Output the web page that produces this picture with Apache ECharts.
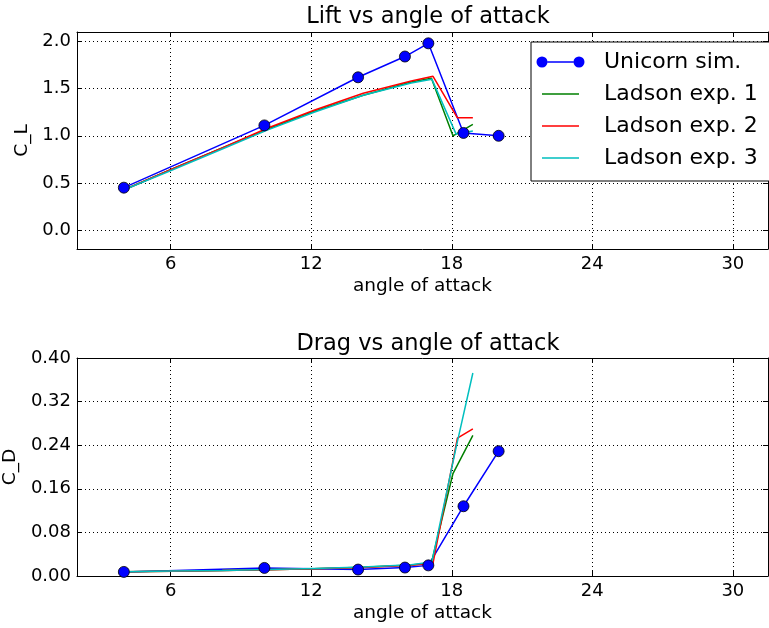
<!DOCTYPE html>
<html>
<head>
<meta charset="utf-8">
<script src="https://cdn.jsdelivr.net/npm/echarts@6/dist/echarts.min.js"></script>
<style>
  html, body { margin: 0; padding: 0; background: #fff; }
  #chart { width: 769px; height: 628px; }
</style>
</head>
<body>
<div id="chart"></div>
<script>
// Simulation results (Unicorn)
const aoaSim = [4, 10, 14, 16, 17, 18.5, 20];
const clSim  = [0.45, 1.11, 1.62, 1.84, 1.98, 1.03, 1.00];
const cdSim  = [0.0075, 0.0148, 0.0118, 0.0155, 0.0195, 0.128, 0.229];

// Wind tunnel measurements (Ladson), three runs
const aoaExp1 = [4.04, 6.09, 8.2, 10.12, 12.12, 14.22, 16.27, 17.13, 18.05, 18.9];
const clExp1  = [0.43, 0.65, 0.87, 1.07, 1.26, 1.43, 1.57, 1.61, 1.00, 1.12];
const cdExp1  = [0.0078, 0.0088, 0.0100, 0.0115, 0.0135, 0.0160, 0.0200, 0.0240, 0.188, 0.258];

const aoaExp2 = [4.04, 6.09, 8.2, 10.12, 12.12, 14.22, 16.27, 17.2, 18.24, 18.9];
const clExp2  = [0.43, 0.65, 0.87, 1.08, 1.27, 1.45, 1.58, 1.63, 1.19, 1.19];
const cdExp2  = [0.0078, 0.0088, 0.0100, 0.0115, 0.0133, 0.0158, 0.0198, 0.0235, 0.253, 0.270];

const aoaExp3 = [4.04, 6.09, 8.2, 10.12, 12.12, 14.22, 16.27, 17.15, 18.18, 18.9];
const clExp3  = [0.43, 0.64, 0.86, 1.06, 1.25, 1.43, 1.56, 1.60, 1.02, 1.05];
const cdExp3  = [0.0080, 0.0090, 0.0102, 0.0118, 0.0138, 0.0163, 0.0205, 0.0255, 0.235, 0.3725];

// Tick labels
const xTicks   = [6, 12, 18, 24, 30];
const clTicks  = [0.0, 0.5, 1.0, 1.5, 2.0];
const seriesNames = ['Unicorn sim.', 'Ladson exp. 1', 'Ladson exp. 2', 'Ladson exp. 3'];
const seriesColors = ['#0000ff', '#008000', '#ff0000', '#00bfbf'];

const FONT = 'DejaVu Sans';
const TICK_FS = 18;
const LABEL_FS = 18.5;
const zip = (xs, ys) => xs.map((x, i) => [x, ys[i]]);

const dotted = { show: true, lineStyle: { color: '#000', width: 1, type: [1, 3] } };
const inTick = (vals) => Object.assign({ show: true, inside: true, length: 5, lineStyle: { color: '#000', width: 1 } }, vals ? { customValues: vals } : {});
const axisLine = { show: true, onZero: false, lineStyle: { color: '#000', width: 1 } };

function xAxes(gridIndex) {
  return [
    {
      type: 'value', gridIndex, min: 2, max: 31.5, position: 'bottom',
      axisLine, axisTick: inTick(xTicks),
      axisLabel: { customValues: xTicks, fontSize: TICK_FS, color: '#000', fontFamily: FONT, margin: 6 },
      splitLine: dotted,
      name: 'angle of attack', nameLocation: 'middle', nameGap: 28,
      nameTextStyle: { fontSize: LABEL_FS, color: '#000', fontFamily: FONT }
    },
    {
      type: 'value', gridIndex, min: 2, max: 31.5, position: 'top',
      axisLine, axisTick: inTick(xTicks), axisLabel: { show: false }, splitLine: { show: false }
    }
  ];
}

const titleStyle = { fontSize: 22.5, fontWeight: 'normal', color: '#000', fontFamily: FONT };

const option = {
  animation: false,
  backgroundColor: '#fff',
  title: [
    { text: 'Lift vs angle of attack', left: 428, top: 6, textAlign: 'center', padding: 0, textStyle: titleStyle },
    { text: 'Drag vs angle of attack', left: 428, top: 333, textAlign: 'center', padding: 0, textStyle: titleStyle }
  ],
  grid: [
    { left: 77, right: 1, top: 32, height: 217, containLabel: false, outerBoundsMode: 'none' },
    { left: 77, right: 1, top: 358, height: 218, containLabel: false, outerBoundsMode: 'none' }
  ],
  xAxis: [...xAxes(0), ...xAxes(1)],
  yAxis: [
    {
      type: 'value', gridIndex: 0, min: -0.2, max: 2.1, position: 'left',
      axisLine, axisTick: inTick(clTicks),
      axisLabel: { customValues: clTicks, formatter: v => v.toFixed(1), fontSize: TICK_FS, color: '#000', fontFamily: FONT, margin: 6 },
      splitLine: dotted,
      name: 'C_L', nameLocation: 'middle', nameGap: 39,
      nameTextStyle: { fontSize: LABEL_FS, color: '#000', fontFamily: FONT }
    },
    {
      type: 'value', gridIndex: 0, min: -0.2, max: 2.1, position: 'right',
      axisLine, axisTick: inTick(clTicks), axisLabel: { show: false }, splitLine: { show: false }
    },
    {
      type: 'value', gridIndex: 1, min: 0, max: 0.4, interval: 0.08, position: 'left',
      axisLine, axisTick: inTick(),
      axisLabel: { formatter: v => v.toFixed(2), fontSize: TICK_FS, color: '#000', fontFamily: FONT, margin: 6 },
      splitLine: dotted,
      name: 'C_D', nameLocation: 'middle', nameGap: 52,
      nameTextStyle: { fontSize: LABEL_FS, color: '#000', fontFamily: FONT }
    },
    {
      type: 'value', gridIndex: 1, min: 0, max: 0.4, interval: 0.08, position: 'right',
      axisLine, axisTick: inTick(), axisLabel: { show: false }, splitLine: { show: false }
    }
  ],
  legend: {
    left: 531, top: 42,
    orient: 'vertical',
    padding: [9, 12, 12, 5],
    itemWidth: 63, itemHeight: 12, itemGap: 10,
    backgroundColor: '#fff', borderColor: '#000', borderWidth: 1, borderRadius: 0,
    textStyle: { fontSize: 22, lineHeight: 22, color: '#000', fontFamily: FONT },
    data: [
      { name: seriesNames[0], itemStyle: { borderWidth: 0 },
        icon: 'path://M0,0 L0,0 Z M0.5,6 A5.5,5.5 0 1,1 11.5,6 A5.5,5.5 0 1,1 0.5,6 Z M11.5,5.25 L37.5,5.25 L37.5,6.75 L11.5,6.75 Z M37.5,6 A5.5,5.5 0 1,1 48.5,6 A5.5,5.5 0 1,1 37.5,6 Z M63,12 L63,12 Z' },
      ...seriesNames.slice(1).map(n => ({ name: n, itemStyle: { borderWidth: 0 },
        icon: 'path://M0,0 L0,0 Z M6,5.25 L43,5.25 L43,6.75 L6,6.75 Z M63,12 L63,12 Z' }))
    ]
  },
  series: []
};

function simSeries(xi, yi, ys) {
  return {
    name: seriesNames[0], type: 'line', xAxisIndex: xi, yAxisIndex: yi,
    data: zip(aoaSim, ys),
    symbol: 'circle', symbolSize: 11, showAllSymbol: true,
    itemStyle: { color: seriesColors[0], borderColor: '#000', borderWidth: 0.8 },
    lineStyle: { color: seriesColors[0], width: 1.5 },
    emphasis: { disabled: true }
  };
}
function expSeries(k, xi, yi, xs, ys) {
  return {
    name: seriesNames[k], type: 'line', xAxisIndex: xi, yAxisIndex: yi,
    data: zip(xs, ys), symbol: 'none',
    itemStyle: { color: seriesColors[k] },
    lineStyle: { color: seriesColors[k], width: 1.5 },
    emphasis: { disabled: true }
  };
}

option.series.push(
  simSeries(0, 0, clSim),
  expSeries(1, 0, 0, aoaExp1, clExp1),
  expSeries(2, 0, 0, aoaExp2, clExp2),
  expSeries(3, 0, 0, aoaExp3, clExp3),
  simSeries(2, 2, cdSim),
  expSeries(1, 2, 2, aoaExp1, cdExp1),
  expSeries(2, 2, 2, aoaExp2, cdExp2),
  expSeries(3, 2, 2, aoaExp3, cdExp3)
);

const chart = echarts.init(document.getElementById('chart'), null, { renderer: 'canvas' });
chart.setOption(option);
</script>
</body>
</html>
